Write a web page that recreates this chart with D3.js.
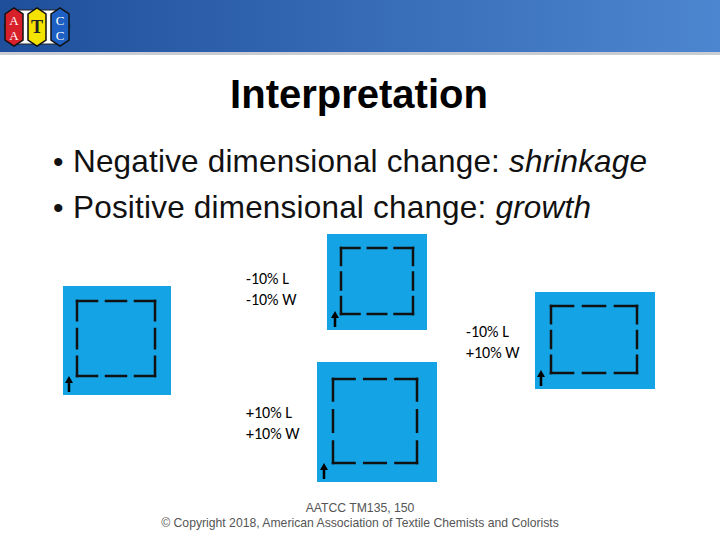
<!DOCTYPE html>
<html><head><meta charset="utf-8">
<script src="https://cdn.jsdelivr.net/npm/d3@7"></script>
<style>body{margin:0;background:#fff}</style></head>
<body><div id="slide"></div>
<script>
var bullets = ["Negative dimensional change: ", "Positive dimensional change: "];
var bulletItalics = ["shrinkage", "growth"];
var labels = [["-10% L", "-10% W"], ["-10% L", "+10% W"], ["+10% L", "+10% W"]];

var svg = d3.select("#slide").append("svg").attr("width", 720).attr("height", 540)
  .style("font-family", "Liberation Sans, Arial, sans-serif");

var defs = svg.append("defs");
var g = defs.append("linearGradient").attr("id", "hdr").attr("x1", 0).attr("x2", 1);
g.append("stop").attr("offset", "0").attr("stop-color", "#1f4f9a");
g.append("stop").attr("offset", "1").attr("stop-color", "#4d86d0");
svg.append("rect").attr("width", 720).attr("height", 52).attr("fill", "url(#hdr)");
svg.append("rect").attr("y", 52).attr("width", 720).attr("height", 3).attr("fill", "#c9cdd3");

// logo
var logo = svg.append("g").attr("transform", "translate(4,6)");
logo.append("polygon").attr("points", "8,4 58,4 66,20 58,38 8,38 0,20").attr("fill", "#fff").attr("stroke", "#222");
[["#d8202a", 10, "A", "A", "#fff"], ["#f4e300", 33, "T", null, "#222"], ["#1d5fc2", 56, "C", "C", "#fff"]].forEach(function (h) {
  var cx = h[1];
  logo.append("polygon").attr("points", [[cx - 9, 8], [cx, 2], [cx + 9, 8], [cx + 9, 34], [cx, 40], [cx - 9, 34]].join(" "))
    .attr("fill", h[0]).attr("stroke", "#111").attr("stroke-width", 1.5);
  if (h[3]) {
    logo.append("text").attr("x", cx).attr("y", 19).attr("text-anchor", "middle").attr("font-family", "Liberation Serif").attr("font-size", 13).attr("fill", h[4]).text(h[2]);
    logo.append("text").attr("x", cx).attr("y", 34).attr("text-anchor", "middle").attr("font-family", "Liberation Serif").attr("font-size", 13).attr("fill", h[4]).text(h[3]);
  } else {
    logo.append("text").attr("x", cx).attr("y", 27).attr("text-anchor", "middle").attr("font-family", "Liberation Serif").attr("font-weight", "bold").attr("font-size", 18).attr("fill", h[4]).text(h[2]);
  }
});

svg.append("text").attr("x", 359).attr("y", 108).attr("text-anchor", "middle")
  .attr("font-size", 40).attr("font-weight", "bold").attr("fill", "#000").text("Interpretation");

bullets.forEach(function (b, i) {
  svg.append("text").attr("x", 53).attr("y", 172 + i * 46).attr("font-size", 30).attr("fill", "#111").text("•");
  var t = svg.append("text").attr("x", 73).attr("y", 172 + i * 46).attr("font-size", 31.5).attr("fill", "#111")
    .attr("textLength", i === 0 ? 574 : 518).attr("lengthAdjust", "spacing");
  t.append("tspan").text(b);
  t.append("tspan").attr("font-style", "italic").text(bulletItalics[i]);
});

// squares: box, inner dashed rect, arrow x
var squares = [
  {x: 63, y: 286, w: 108, h: 109, ix: 77, iy: 301, iw: 78, ih: 75, ax: 69},
  {x: 327, y: 234, w: 100, h: 96, ix: 341, iy: 248, iw: 72, ih: 66, ax: 335},
  {x: 535, y: 292, w: 120, h: 97, ix: 551, iy: 306, iw: 86, ih: 67, ax: 541},
  {x: 317, y: 362, w: 120, h: 120, ix: 333, iy: 379, iw: 84, ih: 84, ax: 324}
];
squares.forEach(function (s) {
  svg.append("rect").attr("x", s.x).attr("y", s.y).attr("width", s.w).attr("height", s.h).attr("fill", "#14a4e6");
  var sides = [[s.ix, s.iy, s.ix + s.iw, s.iy], [s.ix + s.iw, s.iy, s.ix + s.iw, s.iy + s.ih],
    [s.ix + s.iw, s.iy + s.ih, s.ix, s.iy + s.ih], [s.ix, s.iy + s.ih, s.ix, s.iy]];
  sides.forEach(function (d) {
    var len = Math.hypot(d[2] - d[0], d[3] - d[1]);
    var gap = len * 0.115, dash = (len - 2 * gap) / 3;
    svg.append("line").attr("x1", d[0]).attr("y1", d[1]).attr("x2", d[2]).attr("y2", d[3])
      .attr("stroke", "#111").attr("stroke-width", 2.5).attr("stroke-linecap", "square").attr("stroke-dasharray", dash + " " + gap);
  });
  var by = s.y + s.h - 3;
  svg.append("line").attr("x1", s.ax).attr("y1", by).attr("x2", s.ax).attr("y2", by - 10).attr("stroke", "#000").attr("stroke-width", 2.5);
  svg.append("polygon").attr("points", [[s.ax - 4, by - 9], [s.ax + 4, by - 9], [s.ax, by - 16]].join(" ")).attr("fill", "#000");
});

var labelPos = [[246, 284], [466, 337], [246, 418]];
labels.forEach(function (l, i) {
  l.forEach(function (line, j) {
    svg.append("text").attr("x", labelPos[i][0]).attr("y", labelPos[i][1] + j * 21)
      .attr("font-family", "Carlito, Liberation Sans, sans-serif").attr("font-size", 16).attr("fill", "#000").text(line);
  });
});

svg.append("text").attr("x", 360).attr("y", 512).attr("text-anchor", "middle").attr("font-size", 12.2).attr("fill", "#555").text("AATCC TM135, 150");
svg.append("text").attr("x", 360).attr("y", 527).attr("text-anchor", "middle").attr("font-size", 12.2).attr("fill", "#555").text("© Copyright 2018, American Association of Textile Chemists and Colorists");
</script></body></html>
